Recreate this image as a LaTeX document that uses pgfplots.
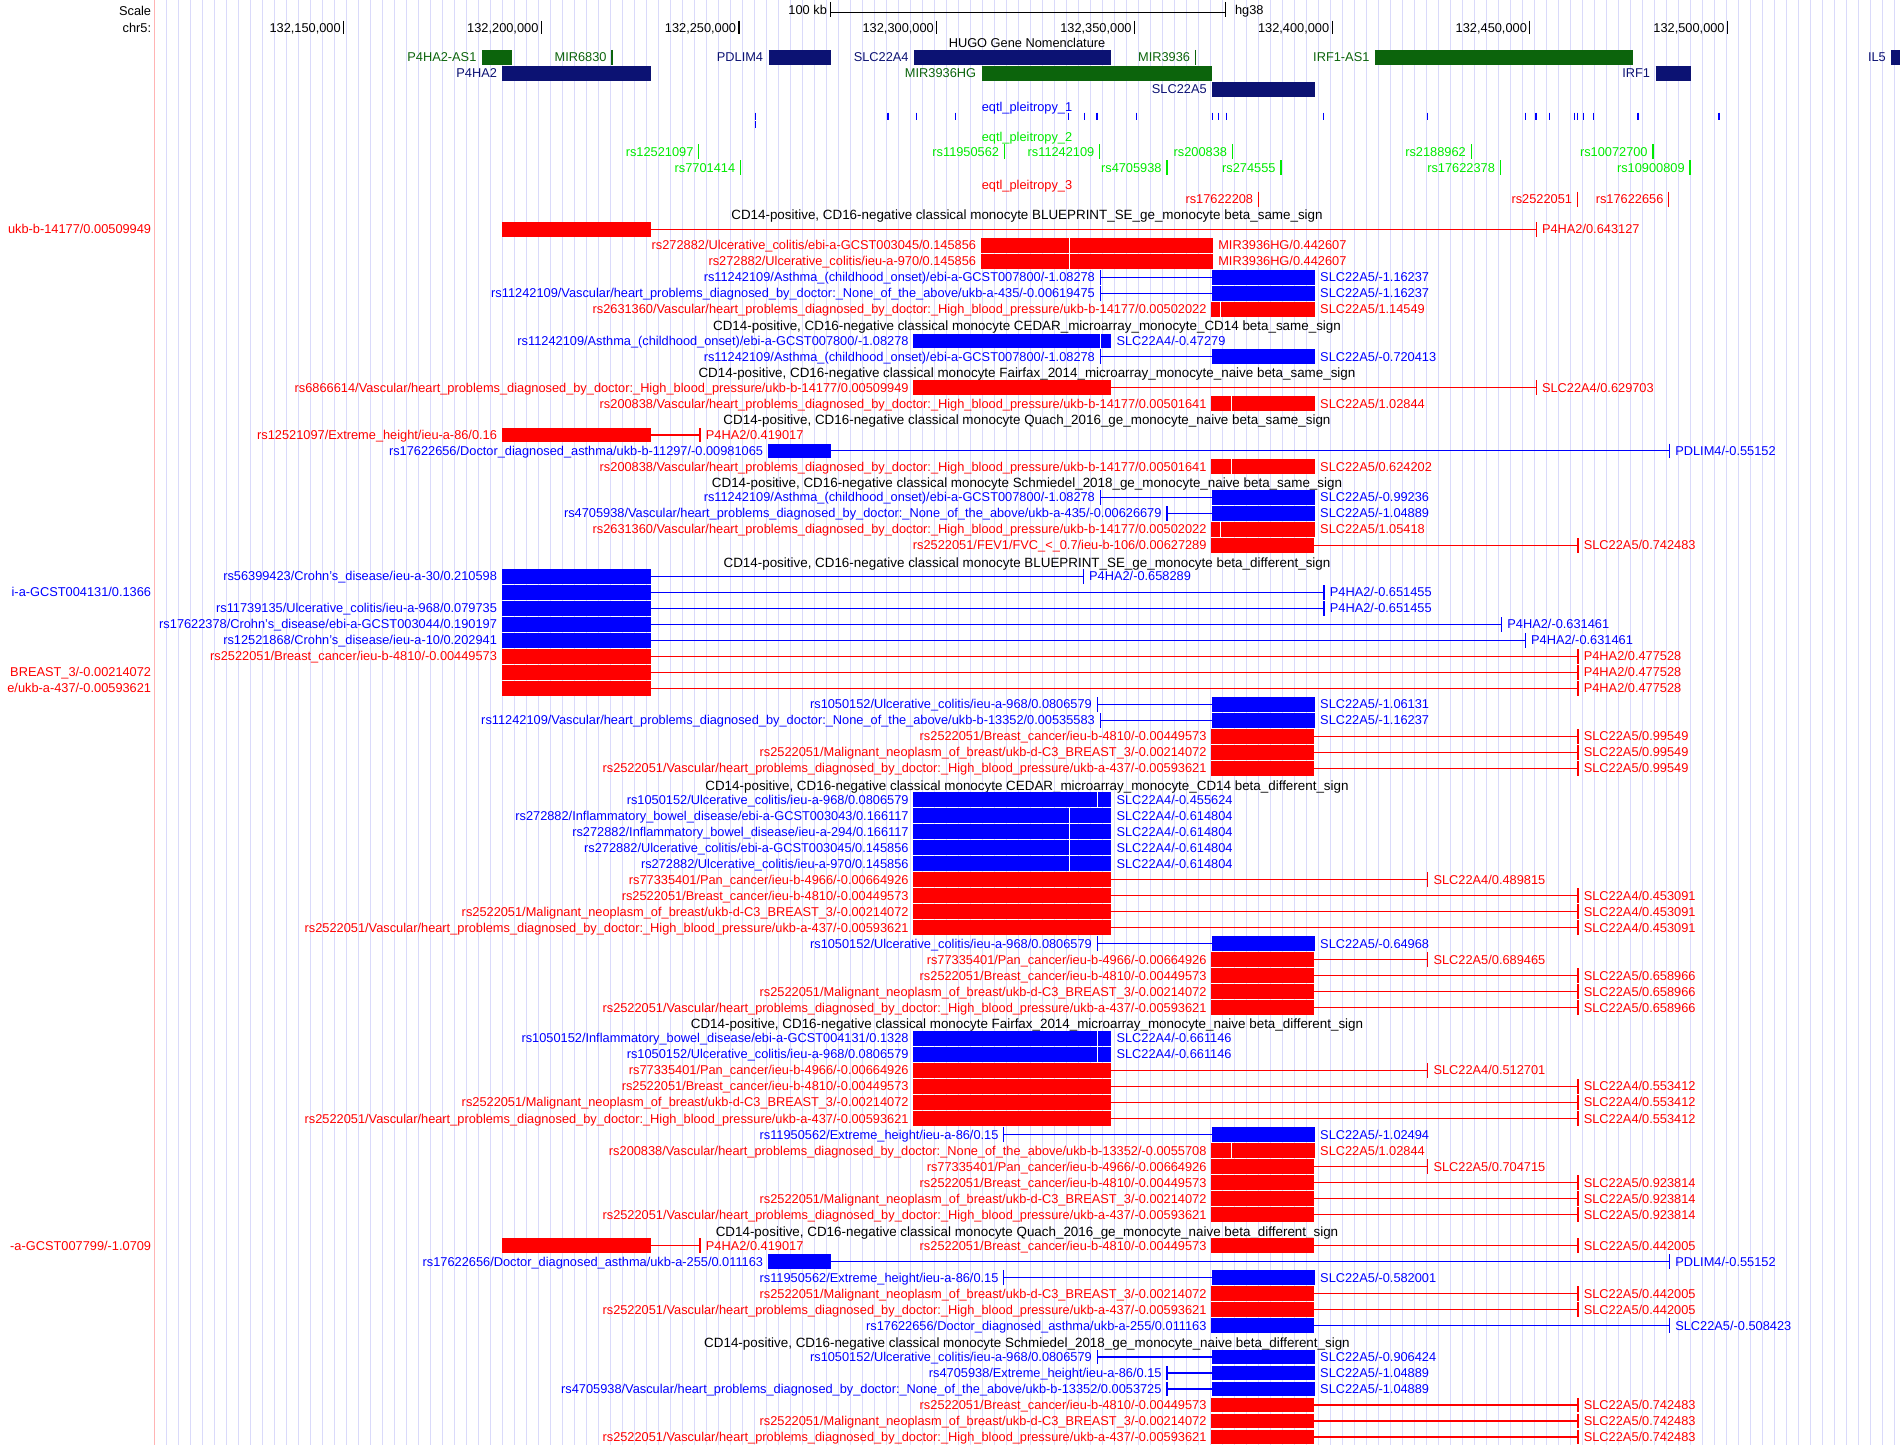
\documentclass[border=0pt]{standalone}
\usepackage{fontspec}
\setmainfont{Liberation Sans}
\usepackage{pgfplots}
\pgfplotsset{compat=1.18}
\definecolor{ured}{RGB}{255,0,0}
\definecolor{ublue}{RGB}{0,0,255}
\definecolor{navy}{RGB}{12,18,115}
\definecolor{dgreen}{RGB}{12,100,12}
\definecolor{lime}{RGB}{0,235,0}
\definecolor{gridc}{RGB}{218,218,250}
\definecolor{pinkc}{RGB}{255,180,180}
\newlength{\pxu}\setlength{\pxu}{0.5pt}
% item: y, colour, start, box start, box end, end, left label, right label
\newcommand{\itm}[8]{%
  \addplot[#2, line width=1.2\pxu] coordinates {(#3,#1) (#6,#1)};
  \addplot[#2, only marks, mark=|, mark size=7.25\pxu, mark options={line width=1.2\pxu}] coordinates {(#3,#1) (#6,#1)};
  \addplot[#2, line width=14.5\pxu] coordinates {(#4,#1) (#5,#1)};
  \node[text=#2, anchor=base east, inner sep=0pt, xshift=-5\pxu, yshift=-4.5\pxu] at (axis cs:#3,#1) {#7};
  \node[text=#2, anchor=base west, inner sep=0pt, xshift=5.5\pxu, yshift=-4.5\pxu] at (axis cs:#6,#1) {#8};
}
\newcommand{\wl}[2]{\addplot[white, only marks, mark=|, mark size=7.25\pxu, mark options={line width=1\pxu}] coordinates {(#2,#1)};}
\newcommand{\far}[3]{\node[text=#2, anchor=base east, inner sep=0pt, yshift=-4.5\pxu] at (axis cs:101.42,#1) {#3};}
\newcommand{\gene}[5]{%
  \addplot[#2, line width=14.5\pxu] coordinates {(#3,#1) (#4,#1)};
  \node[text=#2, anchor=base east, inner sep=0pt, xshift=-5\pxu, yshift=-4.5\pxu] at (axis cs:#3,#1) {#5};}
\newcommand{\gtick}[5]{%
  \addplot[#2, only marks, mark=|, mark size=#4\pxu, mark options={line width=1.2\pxu}] coordinates {(#3,#1)};
  \node[text=#2, anchor=base east, inner sep=0pt, xshift=-5\pxu, yshift=-4.5\pxu] at (axis cs:#3,#1) {#5};}
\newcommand{\ttl}[3]{\node[text=#2, anchor=base, inner sep=0pt, yshift=-4.5\pxu] at (axis cs:322.84,#1) {#3};}
\newcommand{\cttl}[2]{\node[text=black, anchor=base, inner sep=0pt, yshift=-4.5\pxu, font=\fontsize{6.7pt}{8pt}\selectfont] at (axis cs:322.84,#1) {CD14-positive, CD16-negative classical monocyte #2};}
\newcommand{\Vhbp}{rs2522051/Vascular/heart\_problems\_diagnosed\_by\_doctor:\_High\_blood\_pressure/ukb-a-437/-0.00593621}
\newcommand{\Mal}{rs2522051/Malignant\_neoplasm\_of\_breast/ukb-d-C3\_BREAST\_3/-0.00214072}
\newcommand{\Brc}{rs2522051/Breast\_cancer/ieu-b-4810/-0.00449573}
\newcommand{\Pan}{rs77335401/Pan\_cancer/ieu-b-4966/-0.00664926}
\newcommand{\UCa}{rs1050152/Ulcerative\_colitis/ieu-a-968/0.0806579}
\newcommand{\Ast}{rs11242109/Asthma\_(childhood\_onset)/ebi-a-GCST007800/-1.08278}
\begin{document}
\begin{tikzpicture}[font=\fontsize{6.4pt}{7.7pt}\selectfont]
% browser guide lines (every 12 px of the 1900 px image)
\foreach \k in {0,...,144} {\draw[gridc, line width=0.5pt] ({83.25pt+6pt*\k},0) -- ++(0,722.5pt);}
\begin{axis}[
  at={(0,0)}, anchor=south west,
  scale only axis, width=950pt, height=722.5pt,
  xmin=63.10, xmax=543.63, ymin=0, ymax=1445, y dir=reverse,
  axis line style={draw=none},
  xtick=\empty, ytick=\empty,
  clip=true,
]
% left border
\addplot[pinkc, line width=1\pxu] coordinates {(102.18,0) (102.18,1445)};
% header
\node[anchor=base east, inner sep=0pt, yshift=-4.5\pxu] at (axis cs:101.42,11) {Scale};
\node[anchor=base east, inner sep=0pt, yshift=-4.5\pxu] at (axis cs:101.42,27.7) {chr5:};
\addplot[black, line width=1.2\pxu] coordinates {(273.09,12.5) (373.09,12.5)};
\addplot[black, only marks, mark=|, mark size=7.5\pxu, mark options={line width=1.2\pxu}] coordinates {(273.09,9.5) (373.09,9.5)};
\node[anchor=base east, inner sep=0pt, xshift=-3\pxu, yshift=-4.5\pxu] at (axis cs:273.09,10) {100 kb};
\node[anchor=base west, inner sep=0pt, xshift=9\pxu, yshift=-4.5\pxu] at (axis cs:373.09,10) {hg38};
\addplot[black, only marks, mark=|, mark size=6.7\pxu, mark options={line width=1.2\pxu}] coordinates {(150,27.4) (200,27.4) (250,27.4) (300,27.4) (350,27.4) (400,27.4) (450,27.4) (500,27.4)};
\node[anchor=base east, inner sep=0pt, xshift=-2.5\pxu, yshift=-4.5\pxu] at (axis cs:150,27.7) {132,150,000};
\node[anchor=base east, inner sep=0pt, xshift=-2.5\pxu, yshift=-4.5\pxu] at (axis cs:200,27.7) {132,200,000};
\node[anchor=base east, inner sep=0pt, xshift=-2.5\pxu, yshift=-4.5\pxu] at (axis cs:250,27.7) {132,250,000};
\node[anchor=base east, inner sep=0pt, xshift=-2.5\pxu, yshift=-4.5\pxu] at (axis cs:300,27.7) {132,300,000};
\node[anchor=base east, inner sep=0pt, xshift=-2.5\pxu, yshift=-4.5\pxu] at (axis cs:350,27.7) {132,350,000};
\node[anchor=base east, inner sep=0pt, xshift=-2.5\pxu, yshift=-4.5\pxu] at (axis cs:400,27.7) {132,400,000};
\node[anchor=base east, inner sep=0pt, xshift=-2.5\pxu, yshift=-4.5\pxu] at (axis cs:450,27.7) {132,450,000};
\node[anchor=base east, inner sep=0pt, xshift=-2.5\pxu, yshift=-4.5\pxu] at (axis cs:500,27.7) {132,500,000};
% genes
\ttl{43.3}{black}{HUGO Gene Nomenclature}
\gene{57.3}{dgreen}{184.95}{192.62}{P4HA2-AS1}
\gtick{57.3}{dgreen}{217.88}{7.3}{MIR6830}
\gene{57.3}{navy}{257.46}{273.27}{PDLIM4}
\gene{57.3}{navy}{294.26}{343.98}{SLC22A4}
\gtick{57.3}{dgreen}{365.45}{7.3}{MIR3936}
\gene{57.3}{dgreen}{410.80}{476.10}{IRF1-AS1}
\gene{57.3}{navy}{541.40}{546.0}{IL5}
\gene{73.3}{navy}{190.16}{227.72}{P4HA2}
\gene{73.3}{dgreen}{311.33}{369.73}{MIR3936HG}
\gene{73.3}{navy}{481.79}{490.67}{IRF1}
\gene{89.3}{navy}{369.64}{395.68}{SLC22A5}
% eqtl_pleitropy_1
\ttl{107.3}{ublue}{eqtl\_pleitropy\_1}
\addplot[ublue, only marks, mark=|, mark size=3.7\pxu, mark options={line width=1.2\pxu}] coordinates {
(254.27,116.3) (287.68,116.3) (294.94,116.3) (304.78,116.3) (333.31,116.3) (337.35,116.3) (340.56,116.3) (350.58,116.3) (369.77,116.3) (371.22,116.3) (373.32,116.3) (397.82,116.3) (424.13,116.3) (448.81,116.3) (451.55,116.3) (454.94,116.3) (461.38,116.3) (462.04,116.3) (463.48,116.3) (466.06,116.3) (477.36,116.3) (497.85,116.3) (254.27,124.5)};
% eqtl_pleitropy_2
\ttl{137.3}{lime}{eqtl\_pleitropy\_2}
\gtick{151.7}{lime}{239.83}{7.5}{rs12521097}
\gtick{151.7}{lime}{317.14}{7.5}{rs11950562}
\gtick{151.7}{lime}{341.23}{7.5}{rs11242109}
\gtick{151.7}{lime}{374.79}{7.5}{rs200838}
\gtick{151.7}{lime}{435.18}{7.5}{rs2188962}
\gtick{151.7}{lime}{481.16}{7.5}{rs10072700}
\gtick{167.7}{lime}{250.40}{7.5}{rs7701414}
\gtick{167.7}{lime}{358.24}{7.5}{rs4705938}
\gtick{167.7}{lime}{387.05}{7.5}{rs274555}
\gtick{167.7}{lime}{442.54}{7.5}{rs17622378}
\gtick{167.7}{lime}{490.52}{7.5}{rs10900809}
% eqtl_pleitropy_3
\ttl{185}{ured}{eqtl\_pleitropy\_3}
\gtick{199}{ured}{381.39}{7.5}{rs17622208}
\gtick{199}{ured}{462.04}{7.5}{rs2522051}
\gtick{199}{ured}{485.16}{7.5}{rs17622656}
% ---- Track 1
\cttl{215}{BLUEPRINT\_SE\_ge\_monocyte beta\_same\_sign}
\itm{229.3}{ured}{190.16}{190.16}{227.72}{451.59}{}{P4HA2/0.643127}
\far{229.3}{ured}{ukb-b-14177/0.00509949}
\itm{245.3}{ured}{311.33}{311.33}{369.73}{369.73}{rs272882/Ulcerative\_colitis/ebi-a-GCST003045/0.145856}{MIR3936HG/0.442607}
\wl{245.3}{333.56}
\itm{261.3}{ured}{311.33}{311.33}{369.73}{369.73}{rs272882/Ulcerative\_colitis/ieu-a-970/0.145856}{MIR3936HG/0.442607}
\wl{261.3}{333.56}
\itm{277.3}{ublue}{341.38}{369.6}{395.5}{395.5}{\Ast}{SLC22A5/-1.16237}
\itm{293.3}{ublue}{341.38}{369.6}{395.5}{395.5}{rs11242109/Vascular/heart\_problems\_diagnosed\_by\_doctor:\_None\_of\_the\_above/ukb-a-435/-0.00619475}{SLC22A5/-1.16237}
\itm{309.3}{ured}{369.6}{369.6}{395.5}{395.5}{rs2631360/Vascular/heart\_problems\_diagnosed\_by\_doctor:\_High\_blood\_pressure/ukb-b-14177/0.00502022}{SLC22A5/1.14549}
\wl{309.3}{371.72}
% ---- Track 2
\cttl{326}{CEDAR\_microarray\_monocyte\_CD14 beta\_same\_sign}
\itm{341}{ublue}{294.26}{294.26}{343.98}{343.98}{\Ast}{SLC22A4/-0.47279}
\wl{341}{341.38}
\itm{356.5}{ublue}{341.38}{369.6}{395.5}{395.5}{\Ast}{SLC22A5/-0.720413}
% ---- Track 3
\cttl{373}{Fairfax\_2014\_microarray\_monocyte\_naive beta\_same\_sign}
\itm{387.7}{ured}{294.26}{294.26}{343.98}{451.59}{rs6866614/Vascular/heart\_problems\_diagnosed\_by\_doctor:\_High\_blood\_pressure/ukb-b-14177/0.00509949}{SLC22A4/0.629703}
\itm{403.5}{ured}{369.6}{369.6}{395.5}{395.5}{rs200838/Vascular/heart\_problems\_diagnosed\_by\_doctor:\_High\_blood\_pressure/ukb-b-14177/0.00501641}{SLC22A5/1.02844}
\wl{403.5}{374.63}
% ---- Track 4
\cttl{420}{Quach\_2016\_ge\_monocyte\_naive beta\_same\_sign}
\itm{435}{ured}{190.16}{190.16}{227.72}{240.14}{rs12521097/Extreme\_height/ieu-a-86/0.16}{P4HA2/0.419017}
\itm{450.8}{ublue}{257.46}{257.46}{273.27}{485.31}{rs17622656/Doctor\_diagnosed\_asthma/ukb-b-11297/-0.00981065}{PDLIM4/-0.55152}
\itm{466.7}{ured}{369.6}{369.6}{395.5}{395.5}{rs200838/Vascular/heart\_problems\_diagnosed\_by\_doctor:\_High\_blood\_pressure/ukb-b-14177/0.00501641}{SLC22A5/0.624202}
\wl{466.7}{374.63}
% ---- Track 5
\cttl{483.3}{Schmiedel\_2018\_ge\_monocyte\_naive beta\_same\_sign}
\itm{497.3}{ublue}{341.38}{369.6}{395.5}{395.5}{\Ast}{SLC22A5/-0.99236}
\itm{513.3}{ublue}{358.24}{369.6}{395.5}{395.5}{rs4705938/Vascular/heart\_problems\_diagnosed\_by\_doctor:\_None\_of\_the\_above/ukb-a-435/-0.00626679}{SLC22A5/-1.04889}
\itm{529.3}{ured}{369.6}{369.6}{395.5}{395.5}{rs2631360/Vascular/heart\_problems\_diagnosed\_by\_doctor:\_High\_blood\_pressure/ukb-b-14177/0.00502022}{SLC22A5/1.05418}
\wl{529.3}{371.72}
\itm{545.3}{ured}{369.6}{369.6}{395.5}{462.17}{rs2522051/FEV1/FVC\_<\_0.7/ieu-b-106/0.00627289}{SLC22A5/0.742483}
% ---- Track 6
\cttl{562.7}{BLUEPRINT\_SE\_ge\_monocyte beta\_different\_sign}
\itm{576.3}{ublue}{190.16}{190.16}{227.72}{337.07}{rs56399423/Crohn's\_disease/ieu-a-30/0.210598}{P4HA2/-0.658289}
\itm{592.3}{ublue}{190.16}{190.16}{227.72}{397.95}{}{P4HA2/-0.651455}
\far{592.3}{ublue}{i-a-GCST004131/0.1366}
\itm{608.3}{ublue}{190.16}{190.16}{227.72}{397.95}{rs11739135/Ulcerative\_colitis/ieu-a-968/0.079735}{P4HA2/-0.651455}
\itm{624.3}{ublue}{190.16}{190.16}{227.72}{442.85}{rs17622378/Crohn's\_disease/ebi-a-GCST003044/0.190197}{P4HA2/-0.631461}
\itm{640.3}{ublue}{190.16}{190.16}{227.72}{448.84}{rs12521868/Crohn's\_disease/ieu-a-10/0.202941}{P4HA2/-0.631461}
\itm{656.3}{ured}{190.16}{190.16}{227.72}{462.17}{\Brc}{P4HA2/0.477528}
\itm{672.3}{ured}{190.16}{190.16}{227.72}{462.17}{}{P4HA2/0.477528}
\far{672.3}{ured}{BREAST\_3/-0.00214072}
\itm{688.3}{ured}{190.16}{190.16}{227.72}{462.17}{}{P4HA2/0.477528}
\far{688.3}{ured}{e/ukb-a-437/-0.00593621}
\itm{704.3}{ublue}{340.61}{369.6}{395.5}{395.5}{\UCa}{SLC22A5/-1.06131}
\itm{720.3}{ublue}{341.38}{369.6}{395.5}{395.5}{rs11242109/Vascular/heart\_problems\_diagnosed\_by\_doctor:\_None\_of\_the\_above/ukb-b-13352/0.00535583}{SLC22A5/-1.16237}
\itm{736.3}{ured}{369.6}{369.6}{395.5}{462.17}{\Brc}{SLC22A5/0.99549}
\itm{752.3}{ured}{369.6}{369.6}{395.5}{462.17}{\Mal}{SLC22A5/0.99549}
\itm{768.3}{ured}{369.6}{369.6}{395.5}{462.17}{\Vhbp}{SLC22A5/0.99549}
% ---- Track 7
\cttl{785.7}{CEDAR\_microarray\_monocyte\_CD14 beta\_different\_sign}
\itm{799.7}{ublue}{294.26}{294.26}{343.98}{343.98}{\UCa}{SLC22A4/-0.455624}
\wl{799.7}{340.61}
\itm{815.7}{ublue}{294.26}{294.26}{343.98}{343.98}{rs272882/Inflammatory\_bowel\_disease/ebi-a-GCST003043/0.166117}{SLC22A4/-0.614804}
\wl{815.7}{333.56}
\itm{831.7}{ublue}{294.26}{294.26}{343.98}{343.98}{rs272882/Inflammatory\_bowel\_disease/ieu-a-294/0.166117}{SLC22A4/-0.614804}
\wl{831.7}{333.56}
\itm{847.7}{ublue}{294.26}{294.26}{343.98}{343.98}{rs272882/Ulcerative\_colitis/ebi-a-GCST003045/0.145856}{SLC22A4/-0.614804}
\wl{847.7}{333.56}
\itm{863.7}{ublue}{294.26}{294.26}{343.98}{343.98}{rs272882/Ulcerative\_colitis/ieu-a-970/0.145856}{SLC22A4/-0.614804}
\wl{863.7}{333.56}
\itm{879.7}{ured}{294.26}{294.26}{343.98}{424.16}{\Pan}{SLC22A4/0.489815}
\itm{895.7}{ured}{294.26}{294.26}{343.98}{462.17}{\Brc}{SLC22A4/0.453091}
\itm{911.7}{ured}{294.26}{294.26}{343.98}{462.17}{\Mal}{SLC22A4/0.453091}
\itm{927.7}{ured}{294.26}{294.26}{343.98}{462.17}{\Vhbp}{SLC22A4/0.453091}
\itm{943.7}{ublue}{340.61}{369.6}{395.5}{395.5}{\UCa}{SLC22A5/-0.64968}
\itm{959.7}{ured}{369.6}{369.6}{395.5}{424.16}{\Pan}{SLC22A5/0.689465}
\itm{975.7}{ured}{369.6}{369.6}{395.5}{462.17}{\Brc}{SLC22A5/0.658966}
\itm{991.7}{ured}{369.6}{369.6}{395.5}{462.17}{\Mal}{SLC22A5/0.658966}
\itm{1007.7}{ured}{369.6}{369.6}{395.5}{462.17}{\Vhbp}{SLC22A5/0.658966}
% ---- Track 8
\cttl{1024.3}{Fairfax\_2014\_microarray\_monocyte\_naive beta\_different\_sign}
\itm{1038.3}{ublue}{294.26}{294.26}{343.98}{343.98}{rs1050152/Inflammatory\_bowel\_disease/ebi-a-GCST004131/0.1328}{SLC22A4/-0.661146}
\wl{1038.3}{340.61}
\itm{1054.3}{ublue}{294.26}{294.26}{343.98}{343.98}{\UCa}{SLC22A4/-0.661146}
\wl{1054.3}{340.61}
\itm{1070.3}{ured}{294.26}{294.26}{343.98}{424.16}{\Pan}{SLC22A4/0.512701}
\itm{1086.3}{ured}{294.26}{294.26}{343.98}{462.17}{\Brc}{SLC22A4/0.553412}
\itm{1102.4}{ured}{294.26}{294.26}{343.98}{462.17}{\Mal}{SLC22A4/0.553412}
\itm{1118.5}{ured}{294.26}{294.26}{343.98}{462.17}{\Vhbp}{SLC22A4/0.553412}
\itm{1134.5}{ublue}{316.99}{369.6}{395.5}{395.5}{rs11950562/Extreme\_height/ieu-a-86/0.15}{SLC22A5/-1.02494}
\itm{1150.5}{ured}{369.6}{369.6}{395.5}{395.5}{rs200838/Vascular/heart\_problems\_diagnosed\_by\_doctor:\_None\_of\_the\_above/ukb-b-13352/-0.0055708}{SLC22A5/1.02844}
\wl{1150.5}{374.63}
\itm{1166.5}{ured}{369.6}{369.6}{395.5}{424.16}{\Pan}{SLC22A5/0.704715}
\itm{1182.5}{ured}{369.6}{369.6}{395.5}{462.17}{\Brc}{SLC22A5/0.923814}
\itm{1198.5}{ured}{369.6}{369.6}{395.5}{462.17}{\Mal}{SLC22A5/0.923814}
\itm{1214.5}{ured}{369.6}{369.6}{395.5}{462.17}{\Vhbp}{SLC22A5/0.923814}
% ---- Track 9
\cttl{1231.7}{Quach\_2016\_ge\_monocyte\_naive beta\_different\_sign}
\itm{1245.7}{ured}{190.16}{190.16}{227.72}{240.14}{}{P4HA2/0.419017}
\far{1245.7}{ured}{-a-GCST007799/-1.0709}
\itm{1245.7}{ured}{369.6}{369.6}{395.5}{462.17}{\Brc}{SLC22A5/0.442005}
\itm{1261.7}{ublue}{257.46}{257.46}{273.27}{485.31}{rs17622656/Doctor\_diagnosed\_asthma/ukb-a-255/0.011163}{PDLIM4/-0.55152}
\itm{1277.7}{ublue}{316.99}{369.6}{395.5}{395.5}{rs11950562/Extreme\_height/ieu-a-86/0.15}{SLC22A5/-0.582001}
\itm{1293.7}{ured}{369.6}{369.6}{395.5}{462.17}{\Mal}{SLC22A5/0.442005}
\itm{1309.7}{ured}{369.6}{369.6}{395.5}{462.17}{\Vhbp}{SLC22A5/0.442005}
\itm{1325.7}{ublue}{369.6}{369.6}{395.5}{485.31}{rs17622656/Doctor\_diagnosed\_asthma/ukb-a-255/0.011163}{SLC22A5/-0.508423}
% ---- Track 10
\cttl{1343}{Schmiedel\_2018\_ge\_monocyte\_naive beta\_different\_sign}
\itm{1357}{ublue}{340.61}{369.6}{395.5}{395.5}{\UCa}{SLC22A5/-0.906424}
\itm{1373}{ublue}{358.24}{369.6}{395.5}{395.5}{rs4705938/Extreme\_height/ieu-a-86/0.15}{SLC22A5/-1.04889}
\itm{1389}{ublue}{358.24}{369.6}{395.5}{395.5}{rs4705938/Vascular/heart\_problems\_diagnosed\_by\_doctor:\_None\_of\_the\_above/ukb-b-13352/0.0053725}{SLC22A5/-1.04889}
\itm{1405}{ured}{369.6}{369.6}{395.5}{462.17}{\Brc}{SLC22A5/0.742483}
\itm{1421}{ured}{369.6}{369.6}{395.5}{462.17}{\Mal}{SLC22A5/0.742483}
\itm{1437}{ured}{369.6}{369.6}{395.5}{462.17}{\Vhbp}{SLC22A5/0.742483}
\end{axis}
\pgfresetboundingbox
\path[use as bounding box] (0,0) rectangle (950pt,722.5pt);
\end{tikzpicture}
\end{document}
